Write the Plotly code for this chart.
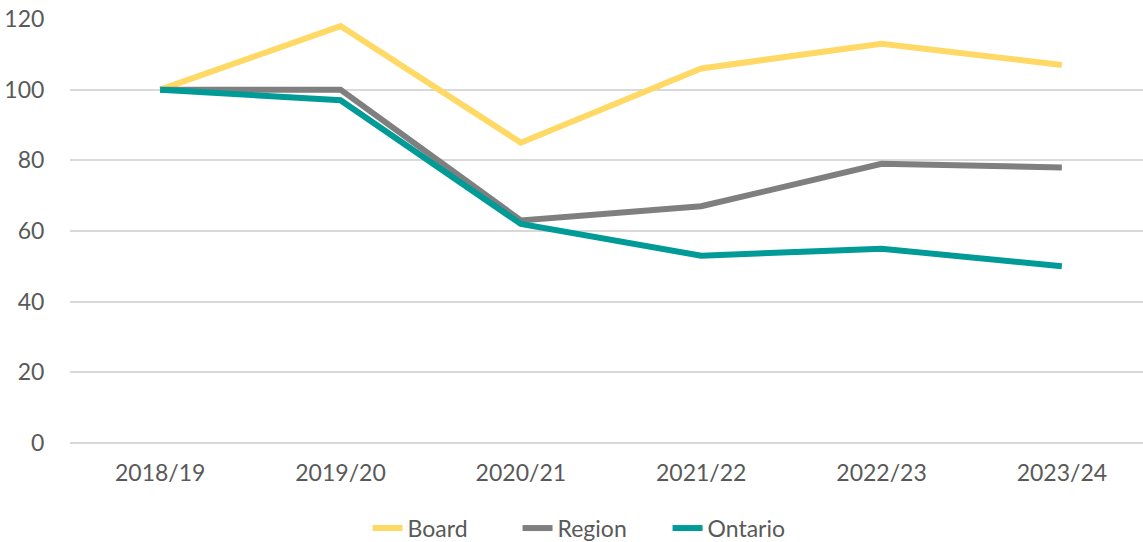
import plotly.graph_objects as go

years = ["2018/19", "2019/20", "2020/21", "2021/22", "2022/23", "2023/24"]
board = [100, 118, 85, 106, 113, 107]
region = [100, 100, 63, 67, 79, 78]
ontario = [100, 97, 62, 53, 55, 50]

fig = go.Figure()
fig.add_trace(go.Scatter(x=years, y=board, mode="lines", name="Board",
                         line=dict(color="#FFD966", width=6)))
fig.add_trace(go.Scatter(x=years, y=region, mode="lines", name="Region",
                         line=dict(color="#7F7F7F", width=6)))
fig.add_trace(go.Scatter(x=years, y=ontario, mode="lines", name="Ontario",
                         line=dict(color="#009B97", width=6)))

fig.update_layout(
    width=1143, height=542,
    margin=dict(l=70, r=0, t=19, b=99, autoexpand=False),
    paper_bgcolor="white", plot_bgcolor="white",
    font=dict(family="Lato", size=23, color="#595959"),
    showlegend=True,
    legend=dict(orientation="h", x=0.487, xanchor="center", y=-0.15, yanchor="top",
                font=dict(size=23, color="#595959"), entrywidth=105,
                traceorder="normal"),
    xaxis=dict(type="category", range=[-0.5, 5.45], showgrid=False,
               showline=False, ticks="outside", ticklen=9, tickcolor="white",
               tickfont=dict(size=23), automargin=False),
    yaxis=dict(range=[0, 120], dtick=20, showgrid=True, gridcolor="#D9D9D9",
               gridwidth=2, zeroline=True, zerolinecolor="#D9D9D9", zerolinewidth=2,
               ticks="outside", ticklen=20, tickcolor="white",
               tickfont=dict(size=23), automargin=False),
)

# drop the default page margin so the figure sits at the window corner
fig.write_html("out.html", config={"displayModeBar": False},
               post_script="document.body.style.margin='0';")
